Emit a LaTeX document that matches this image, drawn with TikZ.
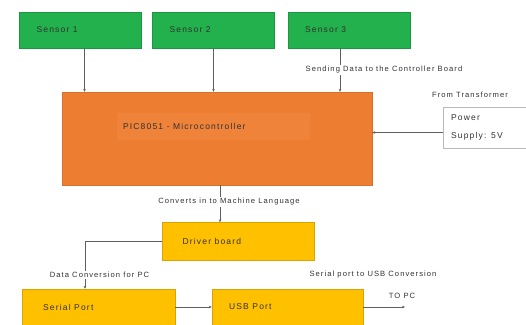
\documentclass[tikz,border=0pt]{standalone}
\usepackage{fontspec}
\setmainfont{Liberation Sans}
\newfontfamily\widefont[LetterSpace=14]{Liberation Sans}
\usetikzlibrary{arrows.meta}
\usetikzlibrary{positioning}
\definecolor{sensorgreen}{RGB}{34,177,76}
\definecolor{mcuorange}{RGB}{237,125,49}
\definecolor{mcuinner}{RGB}{239,131,58}
\definecolor{boardyellow}{RGB}{255,192,0}
\definecolor{linegray}{RGB}{95,95,95}
\definecolor{textgray}{RGB}{50,50,50}
\tikzset {
  block/.style = {
    rectangle,
    inner ysep = 0pt,
    align = flush left,
    text = textgray,
    font = \widefont\fontsize{8.5}{10}\selectfont
  },
  % green sensor box
  sensor/.style = {
    block,
    fill = sensorgreen,
    draw = sensorgreen!85!black,
    minimum height = 36pt,
    text width = 88pt,
    inner xsep = 17pt
  },
  % yellow board box
  board/.style = {
    block,
    fill = boardyellow,
    draw = boardyellow!85!black
  },
  % text on a connector
  note/.style = {
    fill = white,
    inner sep = 1pt,
    text = textgray,
    font = \widefont\fontsize{7.6}{9}\selectfont
  }
}
\tikzset {
  % connector with small head
  link/.style = {
    draw = linegray,
    line width = 0.5pt,
    -{Stealth[length=3pt, width=2.6pt]}
  }
}

\begin{document}
\begin{tikzpicture}[x=1pt, y=-1pt]
    \useasboundingbox (0,0) rectangle (526,324);

    \node[sensor] (s1) at (80.5,30) {Sensor 1};
    \node[sensor] (s2) at (213.5,30) {Sensor 2};
    \node[sensor] (s3) at (349,30) {Sensor 3};

    \node[block, fill=mcuorange, draw=mcuorange!90!black, minimum width=310pt, minimum height=93pt] (mcu) at (217,138.5) {};
    \node[block, fill=mcuinner, minimum width=193pt, minimum height=27pt, text width=181pt, inner xsep=6pt] (chip) at (213.5,126.5) {PIC8051 - Microcontroller};

    \node[block, fill=white, draw=gray!55, minimum height=41pt, text width=71pt, inner xsep=8pt] (power) at (486.5,127.5) {Power\\[8pt]Supply: 5V};
    \node[note] (transformer) at (470,95) {From Transformer};

    \node[board, minimum height=38pt, text width=112pt, inner xsep=20pt] (driver) at (238.5,241.5) {Driver board};
    \node[board, minimum height=36pt, text width=111pt, inner xsep=21pt] (serial) at (98.5,307) {Serial Port};
    \node[board, minimum height=36pt, text width=117pt, inner xsep=17pt] (usb) at (287.5,307) {USB Port};
    \coordinate (pc) at (405,307);

    \draw[link] ([xshift=4pt]s1.south) -- ([xshift=4pt]s1.south |- mcu.north);
    \draw[link] (s2.south) -- (s2.south |- mcu.north);
    \draw[link] ([xshift=-9pt]s3.south) -- ([xshift=-9pt]s3.south |- mcu.north);
    \draw[link] ([yshift=-5pt]power.west) -- ([yshift=-5pt]power.west -| mcu.east);
    \draw[link] ([xshift=3pt]mcu.south) -- ([xshift=3pt]mcu.south |- driver.north);
    \draw[link] (driver.west) -| ([xshift=-13.5pt]serial.north);
    \draw[link] (serial) -- (usb);
    \draw[link] (usb) -- (pc);

    \node[note] (sending) at (384,70) {Sending Data to the Controller Board};
    \node[note] (converts) at (229,202) {Converts in to Machine Language};
    \node[note] (dataconv) at (99.5,275) {Data Conversion for PC};
    \node[note] (usbconv) at (373,275) {Serial port to USB Conversion};
    \node[note, fill=none] (topc) at (402,296) {TO PC};
\end{tikzpicture}
\end{document}
